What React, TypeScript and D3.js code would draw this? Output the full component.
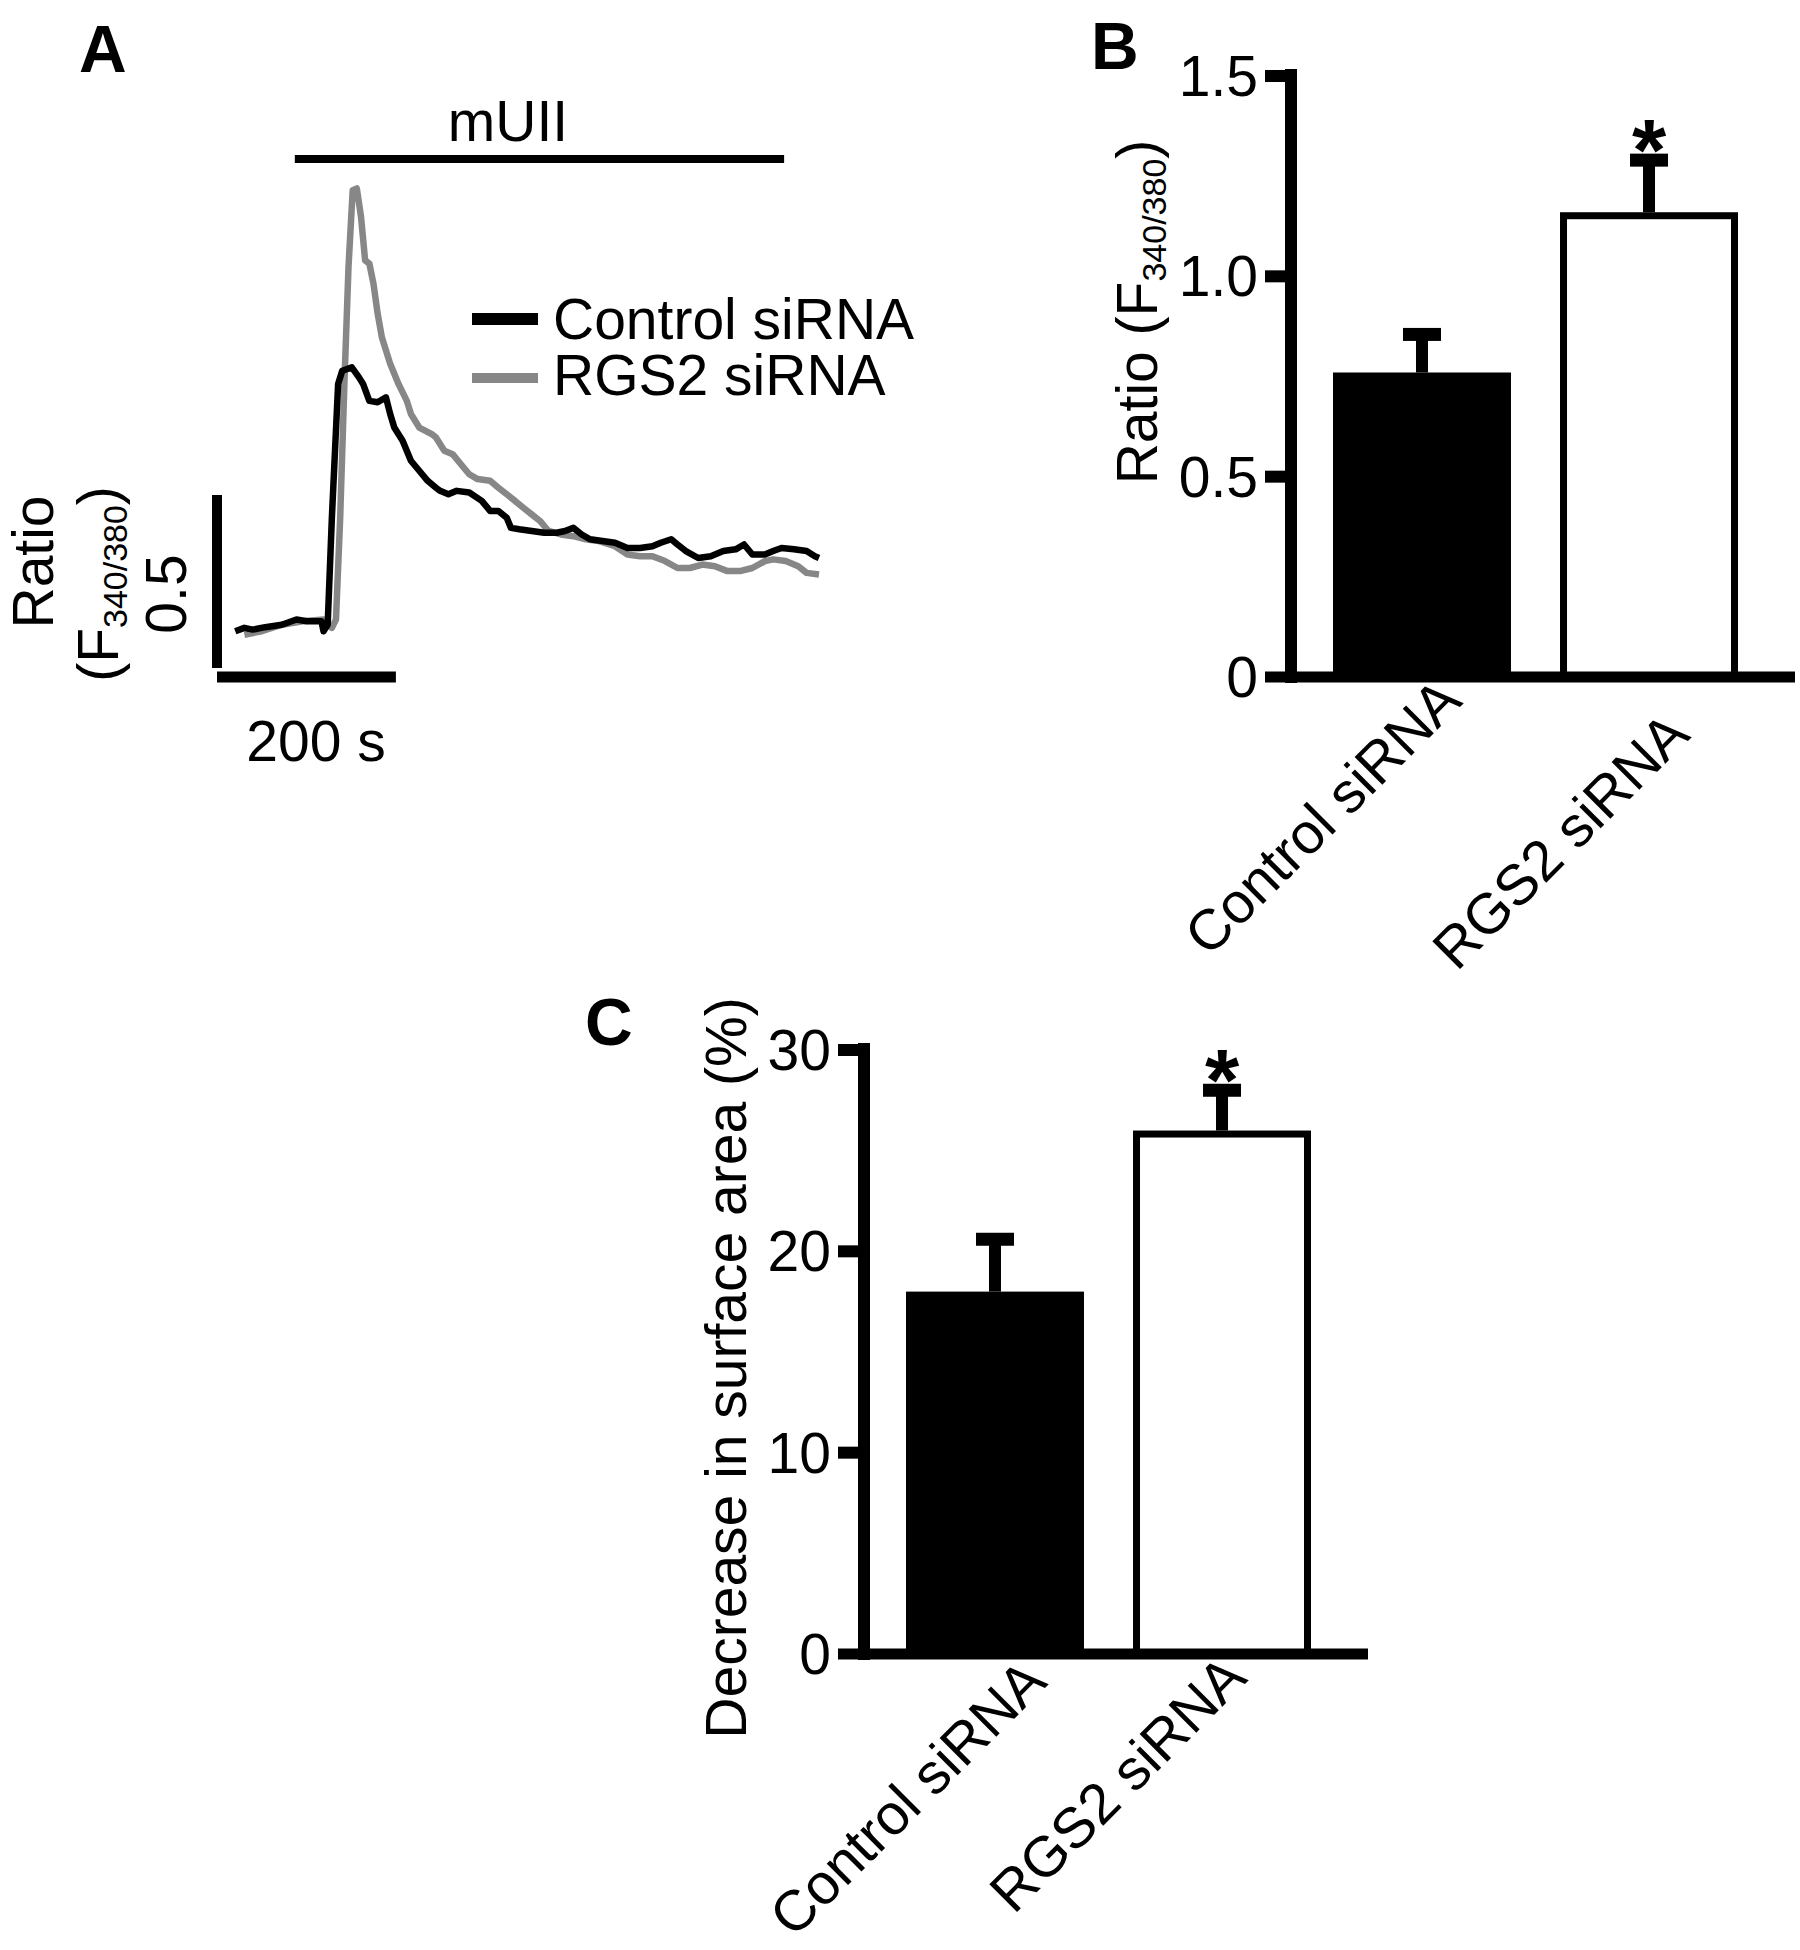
import React from 'react';
import * as d3 from 'd3';

const FONT = "'Liberation Sans', Arial, Helvetica, sans-serif";
const FS = 57;
const SUB = 34;

// Panel A: Fura-2 ratio traces, [time (s), ratio F340/380]
const traceControl: [number, number][] = [
  [1.4, 0.806], [11.6, 0.816], [20.9, 0.811], [34.9, 0.818], [53.5, 0.825], [69.8, 0.84], [81.5, 0.835],
  [97.8, 0.835], [100.1, 0.806], [104.7, 0.825], [109.4, 1.134], [116.4, 1.521], [121, 1.559], [131.7, 1.569],
  [139.7, 1.54], [144.3, 1.521], [151.3, 1.472], [160.6, 1.468], [169.9, 1.482], [174.6, 1.434], [179.2, 1.395],
  [188.5, 1.357], [197.8, 1.299], [207.1, 1.27], [216.5, 1.241], [225.8, 1.221], [230.4, 1.212], [239.7, 1.202],
  [249, 1.212], [263, 1.207], [277, 1.183], [286.3, 1.154], [295.6, 1.154], [304.9, 1.134], [309.6, 1.105],
  [318.9, 1.101], [332.8, 1.096], [346.8, 1.091], [360.8, 1.091], [370.1, 1.096], [379.4, 1.105], [388.7, 1.086],
  [398, 1.072], [412, 1.067], [425.9, 1.062], [439.9, 1.047], [453.9, 1.047], [467.8, 1.052], [477.1, 1.062],
  [488.8, 1.072], [495.8, 1.057], [505.1, 1.038], [519, 1.018], [533, 1.023], [547, 1.038], [560.9, 1.043],
  [570.2, 1.057], [579.5, 1.028], [593.5, 1.028], [602.8, 1.038], [612.1, 1.047], [626.1, 1.043], [640.1, 1.038],
  [649.4, 1.023], [654, 1.018],
];

const traceRgs2: [number, number][] = [
  [11.6, 0.796], [30.3, 0.806], [53.5, 0.825], [76.8, 0.835], [100.1, 0.84], [109.4, 0.816], [114, 0.84],
  [118.7, 1.134], [123.4, 1.521], [128, 1.859], [132.7, 2.081], [137.3, 2.086], [142, 2.004], [146.6, 1.878],
  [151.3, 1.869], [155.9, 1.811], [160.6, 1.724], [165.3, 1.656], [174.6, 1.579], [183.9, 1.521], [193.2, 1.472],
  [197.8, 1.434], [207.1, 1.395], [221.1, 1.376], [225.8, 1.366], [235.1, 1.328], [244.4, 1.318], [253.7, 1.289],
  [263, 1.26], [272.3, 1.246], [286.3, 1.241], [295.6, 1.221], [304.9, 1.202], [314.2, 1.183], [323.5, 1.163],
  [332.8, 1.144], [342.1, 1.125], [351.5, 1.096], [365.4, 1.086], [379.4, 1.081], [393.3, 1.072], [407.3, 1.067],
  [425.9, 1.052], [439.9, 1.028], [453.9, 1.023], [467.8, 1.023], [481.8, 1.009], [495.8, 0.989], [509.7, 0.989],
  [523.7, 0.999], [537.7, 0.994], [551.6, 0.98], [565.6, 0.98], [579.5, 0.989], [593.5, 1.009], [602.8, 1.014],
  [616.8, 1.009], [630.8, 0.994], [640.1, 0.975], [654, 0.97],
];

const muiiWindow = [68, 615]; // s
const timeScaleBar = [-19, 181]; // 200 s
const ratioScaleBar = [0.7, 1.2]; // 0.5

// Panels B and C
const categories = ['Control siRNA', 'RGS2 siRNA'];
const ratioMeans = [0.76, 1.16];
const ratioSem = [0.095, 0.13];
const ratioTicks = [0, 0.5, 1.0, 1.5];
const ratioTickLabels = ['0', '0.5', '1.0', '1.5'];
const areaMeans = [18.0, 26.0];
const areaSem = [2.6, 2.0];
const areaTicks = [0, 10, 20, 30];
const areaTickLabels = ['0', '10', '20', '30'];
const significant = [false, true];

const GRAY = '#878787';

function TracePanel() {
  const x = d3.scaleLinear().domain([0, 654]).range([234, 819]);
  const y = d3.scaleLinear().domain([0.7, 1.2]).range([668, 495]);
  const line = d3.line<[number, number]>().x((d) => x(d[0])).y((d) => y(d[1]));

  return (
    <g fontFamily={FONT} fill="#000">
      <text x={79} y={72} fontSize={66} fontWeight="bold">A</text>

      <text x={508} y={141} fontSize={FS} textAnchor="middle">mUII</text>
      <line x1={x(muiiWindow[0])} x2={x(muiiWindow[1])} y1={159} y2={159} stroke="#000" strokeWidth={8} />

      <path d={line(traceRgs2) || ''} fill="none" stroke={GRAY} strokeWidth={6.5} strokeLinejoin="round" />
      <path d={line(traceControl) || ''} fill="none" stroke="#000" strokeWidth={6.5} strokeLinejoin="round" />

      <line x1={472} x2={538} y1={319} y2={319} stroke="#000" strokeWidth={12} />
      <text x={553} y={339} fontSize={FS}>Control siRNA</text>
      <line x1={472} x2={538} y1={378} y2={378} stroke={GRAY} strokeWidth={10} />
      <text x={553} y={395} fontSize={FS}>RGS2 siRNA</text>

      {/* scale bars */}
      <line x1={217} x2={217} y1={y(ratioScaleBar[0])} y2={y(ratioScaleBar[1])} stroke="#000" strokeWidth={10} />
      <line x1={x(timeScaleBar[0])} x2={x(timeScaleBar[1])} y1={677} y2={677} stroke="#000" strokeWidth={11} />
      <text x={316} y={761} fontSize={FS} textAnchor="middle">200 s</text>

      <text transform="translate(53,562) rotate(-90)" fontSize={FS} textAnchor="middle">Ratio</text>
      <text transform="translate(118,584) rotate(-90)" fontSize={FS} textAnchor="middle">
        (F<tspan fontSize={SUB} dy={9}>340/380</tspan><tspan dy={-9}>)</tspan>
      </text>
      <text transform="translate(186,594) rotate(-90)" fontSize={FS} textAnchor="middle">0.5</text>
    </g>
  );
}

interface BarPanelProps {
  letter: string;
  letterPos: [number, number];
  axisX: number;
  yZero: number;
  yTop: number;
  maxV: number;
  means: number[];
  sems: number[];
  ticks: number[];
  tickLabels: string[];
  labelOffsets: [number, number][];
  title: React.ReactNode;
}

function BarPanel(p: BarPanelProps) {
  const y = d3.scaleLinear().domain([0, p.maxV]).range([p.yZero, p.yTop]);
  const x = d3.scaleBand<string>()
    .domain(categories)
    .range([p.axisX, p.axisX + 489])
    .paddingInner(0.216)
    .paddingOuter(0.185);
  const bw = x.bandwidth();

  return (
    <g fontFamily={FONT} fill="#000">
      <text x={p.letterPos[0]} y={p.letterPos[1]} fontSize={66} fontWeight="bold">{p.letter}</text>
      {p.title}

      {categories.map((c, i) => {
        const x0 = x(c) as number;
        const top = y(p.means[i]);
        const capY = y(p.means[i] + p.sems[i]);
        const cx = x0 + bw / 2;
        return (
          <g key={c}>
            <rect x={cx - 6} y={capY} width={12} height={top - capY} fill="#000" />
            <rect x={cx - 19} y={capY - 6.5} width={38} height={13} fill="#000" />
            {i === 0 ? (
              <rect x={x0} y={top} width={bw} height={p.yZero - top} fill="#000" />
            ) : (
              <rect x={x0 + 3.5} y={top + 3.5} width={bw - 7} height={p.yZero - top - 3.5}
                fill="#fff" stroke="#000" strokeWidth={7} />
            )}
            {significant[i] && (
              <text x={cx} y={capY + 20} fontSize={88} fontWeight="bold" textAnchor="middle">*</text>
            )}
            <text
              transform={`translate(${cx + p.labelOffsets[i][0]},${p.yZero + p.labelOffsets[i][1]}) rotate(-45)`}
              fontSize={FS}
              textAnchor="end"
            >
              {c}
            </text>
          </g>
        );
      })}

      {/* axes */}
      <rect x={p.axisX - 6} y={p.yTop - 7} width={12} height={p.yZero - p.yTop + 13} fill="#000" />
      <rect x={p.axisX - 26} y={p.yZero - 5.5} width={530} height={11} fill="#000" />
      {p.ticks.map((t, i) => (
        <g key={t}>
          {t !== 0 && <rect x={p.axisX - 26} y={y(t) - 6} width={26} height={12} fill="#000" />}
          <text x={p.axisX - 33} y={y(t) + 20} fontSize={FS} textAnchor="end">{p.tickLabels[i]}</text>
        </g>
      ))}
    </g>
  );
}

export default function App() {
  return (
    <svg width={1800} height={1950} style={{ position: 'absolute', left: 0, top: 0, background: '#fff' }}>
      <rect width={1800} height={1950} fill="#fff" />
      <TracePanel />
      <BarPanel
        letter="B"
        letterPos={[1091, 69]}
        axisX={1291}
        yZero={677}
        yTop={76}
        maxV={1.5}
        means={ratioMeans}
        sems={ratioSem}
        ticks={ratioTicks}
        tickLabels={ratioTickLabels}
        labelOffsets={[[42, 26], [43, 60]]}
        title={
          <text transform="translate(1157,312) rotate(-90)" fontSize={FS} textAnchor="middle">
            Ratio (F<tspan fontSize={SUB} dy={9}>340/380</tspan><tspan dy={-9}>)</tspan>
          </text>
        }
      />
      <BarPanel
        letter="C"
        letterPos={[585, 1045]}
        axisX={864}
        yZero={1654}
        yTop={1050}
        maxV={30}
        means={areaMeans}
        sems={areaSem}
        ticks={areaTicks}
        tickLabels={areaTickLabels}
        labelOffsets={[[54, 30], [27, 26]]}
        title={
          <text transform="translate(746,1368) rotate(-90)" fontSize={FS} textAnchor="middle">
            Decrease in surface area (%)
          </text>
        }
      />
    </svg>
  );
}
